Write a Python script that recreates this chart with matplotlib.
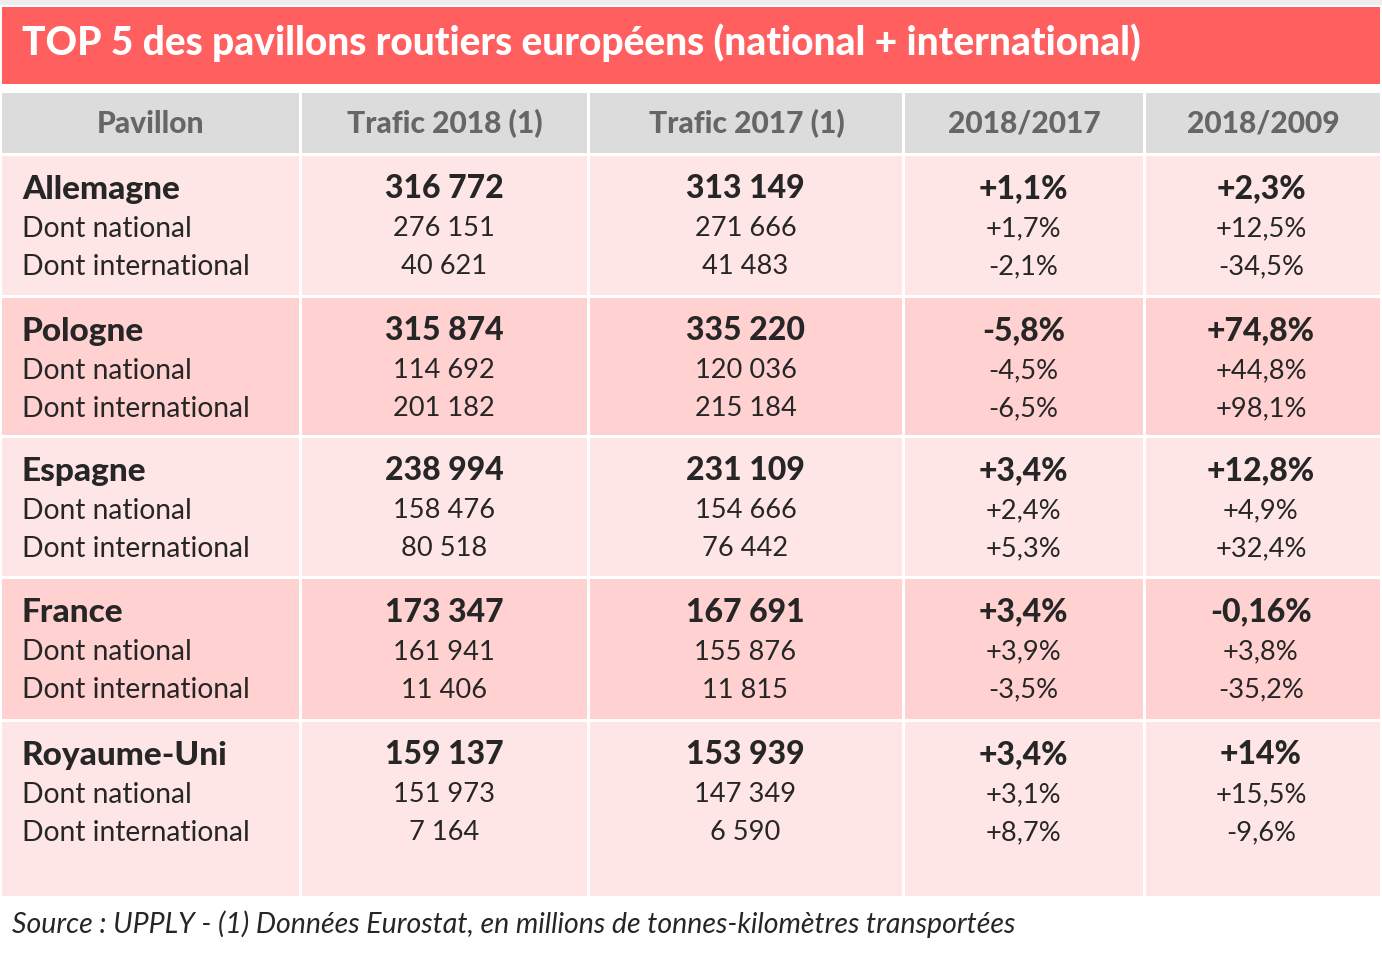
import matplotlib
matplotlib.use("Agg")
import matplotlib.pyplot as plt
from matplotlib.patches import Rectangle

title = "TOP 5 des pavillons routiers européens (national + international)"
headers = ["Pavillon", "Trafic 2018 (1)", "Trafic 2017 (1)", "2018/2017", "2018/2009"]
countries = ["Allemagne", "Pologne", "Espagne", "France", "Royaume-Uni"]
sub_labels = ["Dont national", "Dont international"]
trafic_2018 = [["316 772", "276 151", "40 621"],
               ["315 874", "114 692", "201 182"],
               ["238 994", "158 476", "80 518"],
               ["173 347", "161 941", "11 406"],
               ["159 137", "151 973", "7 164"]]
trafic_2017 = [["313 149", "271 666", "41 483"],
               ["335 220", "120 036", "215 184"],
               ["231 109", "154 666", "76 442"],
               ["167 691", "155 876", "11 815"],
               ["153 939", "147 349", "6 590"]]
var_2018_2017 = [["+1,1%", "+1,7%", "-2,1%"],
                 ["-5,8%", "-4,5%", "-6,5%"],
                 ["+3,4%", "+2,4%", "+5,3%"],
                 ["+3,4%", "+3,9%", "-3,5%"],
                 ["+3,4%", "+3,1%", "+8,7%"]]
var_2018_2009 = [["+2,3%", "+12,5%", "-34,5%"],
                 ["+74,8%", "+44,8%", "+98,1%"],
                 ["+12,8%", "+4,9%", "+32,4%"],
                 ["-0,16%", "+3,8%", "-35,2%"],
                 ["+14%", "+15,5%", "-9,6%"]]
source = "Source : UPPLY - (1) Données Eurostat, en millions de tonnes-kilomètres transportées"

W, H = 1382, 966
fig = plt.figure(figsize=(W / 100, H / 100), dpi=100)
ax = fig.add_axes([0, 0, 1, 1])
ax.set_xlim(0, W)
ax.set_ylim(H, 0)
ax.axis("off")

FONT = "Lato"
BOLD = 900
red = "#FF5F5F"
hdr_bg = "#DCDCDC"
light = "#FFE6E6"
dark = "#FFD1D1"
txt = "#262626"
hdr_txt = "#666666"

# page top border strip
ax.add_patch(Rectangle((0, 0), W, 5, color="#EEEEEE", lw=0))
# title band
ax.add_patch(Rectangle((2, 7), 1378, 77, color=red, lw=0))
ax.text(22, 43, title, color="white", fontsize=28, fontweight=BOLD,
        family=FONT, va="center", ha="left")

col_edges = [2, 302, 590, 905, 1146, 1380]
gap = 3
col_centers = [(col_edges[i] + col_edges[i + 1]) / 2 for i in range(5)]

# header row
hy0, hy1 = 93, 153
for i in range(5):
    x0 = col_edges[i]
    x1 = col_edges[i + 1] - (gap if i < 4 else 0)
    ax.add_patch(Rectangle((x0, hy0), x1 - x0, hy1 - hy0, color=hdr_bg, lw=0))
    ax.text(col_centers[i] - (1 if i < 4 else 0), (hy0 + hy1) / 2 + 1, headers[i],
            color=hdr_txt, fontsize=21.6, fontweight=BOLD, family=FONT,
            ha="center", va="center")

row_tops = [156, 298, 438, 579, 722]
row_bots = [295, 435, 576, 719, 896]
values = [trafic_2018, trafic_2017, var_2018_2017, var_2018_2009]

for r in range(5):
    y0, y1 = row_tops[r], row_bots[r]
    bg = light if r % 2 == 0 else dark
    for i in range(5):
        x0 = col_edges[i]
        x1 = col_edges[i + 1] - (gap if i < 4 else 0)
        ax.add_patch(Rectangle((x0, y0), x1 - x0, y1 - y0, color=bg, lw=0))
    ys = [y0 + 33, y0 + 73, y0 + 111]
    ax.text(22, ys[0], countries[r], color=txt, fontsize=24, fontweight=BOLD,
            family=FONT, ha="left", va="center")
    for k in range(2):
        ax.text(22, ys[k + 1], sub_labels[k], color=txt, fontsize=20.3,
                family=FONT, ha="left", va="center")
    for c in range(4):
        cx = col_centers[c + 1] - 2
        for k in range(3):
            ax.text(cx, ys[k], values[c][r][k], color=txt,
                    fontsize=23 if k == 0 else 19.6,
                    fontweight=BOLD if k == 0 else "normal",
                    family=FONT, ha="center", va="center")

ax.text(12, 924, source, color=txt, fontsize=20.5, style="italic",
        family=FONT, ha="left", va="center")

fig.savefig("out.png", dpi=100, facecolor="white")
